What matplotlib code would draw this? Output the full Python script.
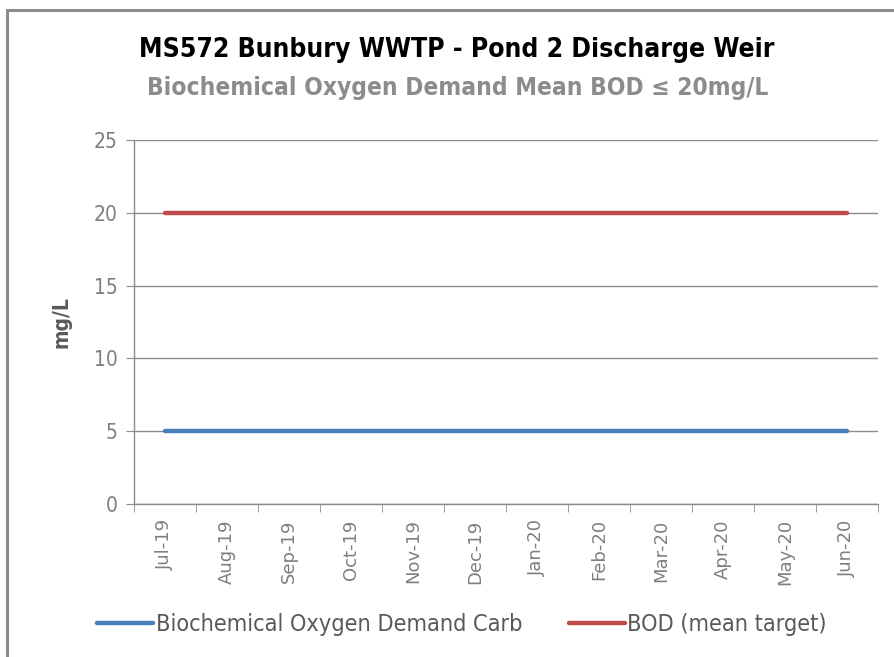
import matplotlib
matplotlib.use("Agg")
import matplotlib.pyplot as plt
from matplotlib.patches import Rectangle

months = ["Jul-19", "Aug-19", "Sep-19", "Oct-19", "Nov-19", "Dec-19",
          "Jan-20", "Feb-20", "Mar-20", "Apr-20", "May-20", "Jun-20"]
bod_carb = [5, 5, 5, 5, 5, 5, 5, 5, 5, 5, 5, 5]
bod_target = [20, 20, 20, 20, 20, 20, 20, 20, 20, 20, 20, 20]
y_ticks = [0, 5, 10, 15, 20, 25]

gray = "#7f7f7f"
blue = "#4a7ebb"
red = "#be4b48"

fig = plt.figure(figsize=(8.95, 6.57), dpi=100)
fig.patches.append(Rectangle((7/895, -0.1), 1.2, 1 - 10/657 + 0.1, transform=fig.transFigure,
                             fill=False, edgecolor="#8c8c8c", linewidth=2.2))
ax = fig.add_axes([134/895, 1 - 504/657, (878 - 134)/895, (504 - 140)/657])

x = list(range(len(months)))
ax.plot(x, bod_carb, color=blue, linewidth=3.2, solid_capstyle="round", label="Biochemical Oxygen Demand Carb")
ax.plot(x, bod_target, color=red, linewidth=3.2, solid_capstyle="round", label="BOD (mean target)")

ax.set_xlim(-0.5, len(months) - 0.5)
ax.set_ylim(0, 25)
ax.set_yticks(y_ticks)
ax.yaxis.grid(True, color="#8c8c8c", linewidth=1.0)
ax.set_axisbelow(True)
for s in ["top", "right"]:
    ax.spines[s].set_visible(False)
for s in ["left", "bottom"]:
    ax.spines[s].set_color("#8c8c8c")
    ax.spines[s].set_linewidth(1.0)

ax.set_xticks(x)
ax.set_xticklabels(months, rotation=90, fontsize=13, color=gray, family=["DejaVu Sans"])
ax.set_xticks([i - 0.5 for i in range(len(months) + 1)], minor=True)
ax.tick_params(axis="x", which="major", length=0, pad=11)
ax.tick_params(axis="x", which="minor", length=6, color="#8c8c8c")
ax.tick_params(axis="y", length=6, color="#8c8c8c", labelsize=15, labelcolor=gray, pad=6)
for lbl in ax.get_yticklabels():
    lbl.set_fontstretch("condensed")

ax.set_ylabel("mg/L", fontsize=15, color="#595959", fontweight="bold", fontstretch="condensed", labelpad=16)

fig.text(457/895, 1 - 50/657, "MS572 Bunbury WWTP - Pond 2 Discharge Weir", ha="center", va="center",
         fontsize=19, fontweight="bold", fontstretch="condensed", color="black")
fig.text(458/895, 1 - 88/657, "Biochemical Oxygen Demand Mean BOD \u2264 20mg/L", ha="center", va="center",
         fontsize=17.6, fontweight="bold", fontstretch="condensed", color="#8c8c8c")

handles, labels = ax.get_legend_handles_labels()
leg = fig.legend(handles, labels, loc="center", bbox_to_anchor=(462/895, 1 - 625/657), ncol=2,
                 frameon=False, handlelength=2.4, handletextpad=0.1, columnspacing=2.0,
                 prop={"size": 16.8, "stretch": "condensed"})
for t in leg.get_texts():
    t.set_color("#595959")

fig.savefig("out.png", dpi=100)
